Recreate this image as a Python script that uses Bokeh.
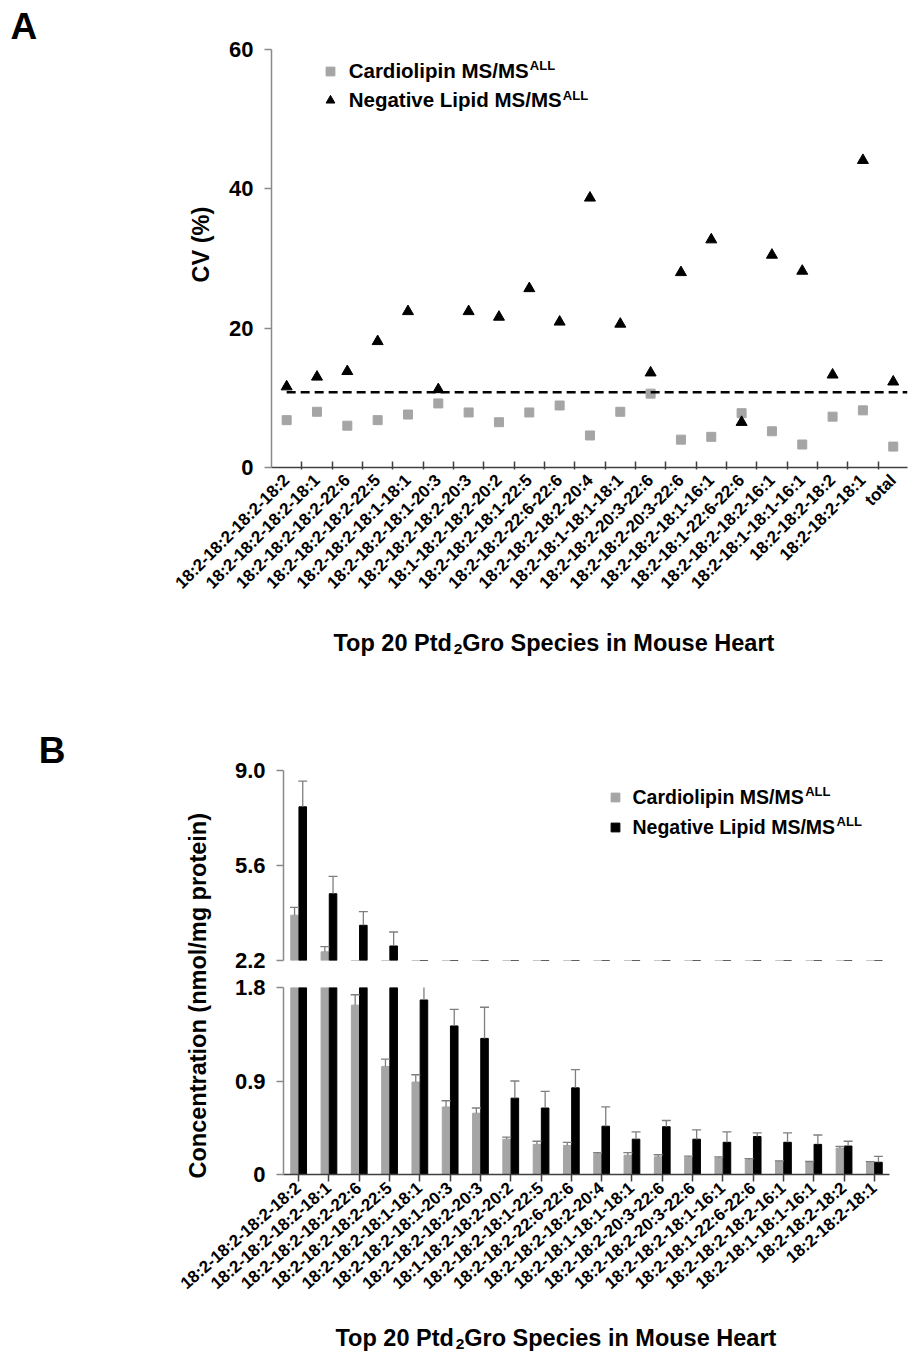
import math
from bokeh.plotting import figure
from bokeh.models import Range1d, FixedTicker, Label, Legend, LegendItem, ColumnDataSource, Title
from bokeh.layouts import column
from bokeh.transform import dodge
from bokeh.embed import file_html
from bokeh.resources import INLINE

FONT = "Liberation Sans"

# ---------------- data ----------------
species = [
    "18:2-18:2-18:2-18:2", "18:2-18:2-18:2-18:1", "18:2-18:2-18:2-22:6", "18:2-18:2-18:2-22:5",
    "18:2-18:2-18:1-18:1", "18:2-18:2-18:1-20:3", "18:2-18:2-18:2-20:3", "18:1-18:2-18:2-20:2",
    "18:2-18:2-18:1-22:5", "18:2-18:2-22:6-22:6", "18:2-18:2-18:2-20:4", "18:2-18:1-18:1-18:1",
    "18:2-18:2-20:3-22:6", "18:2-18:2-20:3-22:6", "18:2-18:2-18:1-16:1", "18:2-18:1-22:6-22:6",
    "18:2-18:2-18:2-16:1", "18:2-18:1-18:1-16:1", "18:2-18:2-18:2", "18:2-18:2-18:1",
]
categories_a = species + ["total"]

cv_cardiolipin = [6.8, 8.0, 6.0, 6.8, 7.6, 9.2, 7.9, 6.5, 7.9, 8.9, 4.6, 8.0, 10.6, 4.0, 4.4,
                  7.8, 5.2, 3.3, 7.3, 8.2, 3.0]
cv_negative = [11.6, 13.0, 13.8, 18.1, 22.4, 11.2, 22.4, 21.6, 25.7, 20.9, 38.7, 20.6, 13.6,
               28.0, 32.7, 6.5, 30.5, 28.2, 13.3, 44.1, 12.3]
cv_reference = 10.8

conc_cardiolipin = [3.82, 2.51, 1.63, 1.04, 0.89, 0.65, 0.59, 0.34, 0.29, 0.28, 0.20, 0.185,
                    0.17, 0.166, 0.16, 0.143, 0.127, 0.12, 0.255, 0.118]
err_cardiolipin = [0.28, 0.19, 0.10, 0.07, 0.07, 0.06, 0.05, 0.02, 0.03, 0.03, 0.01, 0.025,
                   0.02, 0.01, 0.01, 0.01, 0.005, 0.005, 0.015, 0.006]
conc_negative = [7.70, 4.59, 3.46, 2.72, 1.68, 1.43, 1.31, 0.735, 0.64, 0.834, 0.465, 0.34,
                 0.46, 0.34, 0.31, 0.366, 0.31, 0.29, 0.274, 0.118]
err_negative = [0.92, 0.62, 0.49, 0.50, 0.14, 0.16, 0.30, 0.165, 0.16, 0.176, 0.185, 0.07,
                0.06, 0.09, 0.10, 0.034, 0.09, 0.09, 0.046, 0.057]

yticks_a = [0, 20, 40, 60]
yticks_b_upper = [2.2, 5.6, 9.0]
yticks_b_lower = [0, 0.9, 1.8]

GRAY = "#a5a5a5"
AXIS_GRAY = "#8a8a8a"
DARK = "#404040"
ERR_GRAY = "#7f7f7f"
LEFT, RIGHT = 271, 1          # common frame borders (plots in a column share them)
B_SHIFT = 12                  # panel B sits 12 px further right
MID = 0.35                    # em fraction from baseline to text middle


def style_common(p):
    p.grid.visible = False
    p.outline_line_color = None
    p.border_fill_color = None
    p.background_fill_color = None


def style_yaxis(ax, ticks, overrides=None):
    ax.ticker = FixedTicker(ticks=ticks)
    ax.axis_line_color = AXIS_GRAY
    ax.axis_line_width = 1.5
    ax.major_tick_line_color = AXIS_GRAY
    ax.major_tick_line_width = 1.5
    ax.major_tick_in = 0
    ax.major_tick_out = 7
    ax.minor_tick_line_color = None
    ax.major_label_text_font = FONT
    ax.major_label_text_font_size = "22px"
    ax.major_label_text_font_style = "bold"
    ax.major_label_text_color = "black"
    ax.major_label_standoff = 11
    if overrides:
        ax.major_label_overrides = overrides


def text(p, s, sx, sy_baseline, size):
    """Label positioned by its baseline (screen px from the frame's bottom-left)."""
    p.add_layout(Label(x=sx, y=sy_baseline + MID * size, x_units="screen", y_units="screen",
                       text=s, text_font=FONT, text_font_style="bold",
                       text_font_size=f"{size}px", text_color="black",
                       text_align="left", text_baseline="middle"))


def side_title(p, s, place, size, offset, standoff):
    p.add_layout(Title(text=s, align="left", offset=offset, standoff=standoff,
                       vertical_align="bottom", text_font=FONT, text_font_style="bold",
                       text_font_size=f"{size}px", text_color="black"), place)


def band(height, sx, sy):
    """A text-only strip holding an x-axis title with a real subscript."""
    p = figure(width=908, height=height, x_range=Range1d(0, 1), y_range=Range1d(0, 1),
               x_axis_location=None, y_axis_location=None, output_backend="svg",
               toolbar_location=None, tools="", min_border_left=LEFT, min_border_right=RIGHT,
               min_border_top=0, min_border_bottom=0)
    style_common(p)
    size, sub = 23.5, 15.5
    w1 = 5.112 * size
    w2 = 0.556 * sub
    text(p, "Top 20 Ptd", sx, sy, size)
    text(p, "2", sx + w1, sy - 3, sub)
    text(p, "Gro Species in Mouse Heart", sx + w1 + w2, sy, size)
    return p


# ---------------- panel A ----------------
x_a = list(range(len(categories_a)))
src_a = ColumnDataSource(dict(x=x_a, cl=cv_cardiolipin, neg=cv_negative))

pA = figure(width=908, height=610, x_range=Range1d(-0.5, 20.47), y_range=Range1d(0, 60),
            output_backend="svg", toolbar_location=None, tools="",
            min_border_left=LEFT, min_border_right=RIGHT, min_border_top=49, min_border_bottom=143)
style_common(pA)

r_sq = pA.scatter("x", "cl", source=src_a, marker="square", size=9, color=GRAY)
r_tri = pA.scatter("x", "neg", source=src_a, marker="triangle", size=11, color="black")
pA.segment(x0=x_a[0], x1=pA.x_range.end, y0=cv_reference, y1=cv_reference,
           line_color="black", line_width=2.5, line_dash="9 5")

style_yaxis(pA.yaxis[0], yticks_a)
xa = pA.xaxis[0]
xa.ticker = FixedTicker(ticks=x_a, minor_ticks=[i + 0.5 for i in x_a[:-1]])
xa.major_label_overrides = {i: c for i, c in enumerate(categories_a)}
xa.major_label_orientation = math.pi / 4
xa.major_tick_line_color = None
xa.major_tick_in = 0
xa.major_tick_out = 0
xa.minor_tick_line_color = DARK
xa.minor_tick_line_width = 1.5
xa.minor_tick_in = 6
xa.minor_tick_out = 2
xa.axis_line_color = DARK
xa.axis_line_width = 1.5
xa.major_label_text_font = FONT
xa.major_label_text_font_size = "17px"
xa.major_label_text_font_style = "bold"
xa.major_label_text_color = "black"
xa.major_label_standoff = 8

leg_a = Legend(items=[LegendItem(label="Cardiolipin MS/MS", renderers=[r_sq]),
                      LegendItem(label="Negative Lipid MS/MS", renderers=[r_tri])],
               location=(47.7, 355), padding=0, margin=0, spacing=5,
               glyph_width=22, glyph_height=24, label_height=24, label_standoff=8,
               border_line_color=None, background_fill_alpha=0,
               label_text_font=FONT, label_text_font_style="bold",
               label_text_font_size="20.5px", label_text_color="black")
pA.add_layout(leg_a)
text(pA, "ALL", 258.3, 467 - 70, 13)
text(pA, "ALL", 291.3, 467 - 99.6, 13)
side_title(pA, "A", "above", 37, offset=10 - LEFT, standoff=5)
side_title(pA, "CV (%)", "left", 23.5, offset=185, standoff=25)

bandA = band(90, 333 - LEFT, 700 - 651)

# ---------------- panel B ----------------
x_b = list(range(len(species)))
src_b = ColumnDataSource(dict(
    x=x_b, cl=conc_cardiolipin, neg=conc_negative,
    cl_hi=[v + e for v, e in zip(conc_cardiolipin, err_cardiolipin)],
    neg_hi=[v + e for v, e in zip(conc_negative, err_negative)],
))
x_range_b = Range1d(-0.5, 19.5)
OFF, BW = 0.135, 0.25
WB = 908 - B_SHIFT - 18


def draw_bars(p):
    xg = dodge("x", -OFF)
    xk = dodge("x", OFF)
    p.vbar(x=xg, top="cl", bottom=0, width=BW, source=src_b, color=GRAY)
    p.vbar(x=xk, top="neg", bottom=0, width=BW, source=src_b, color="black")
    for xx, lo, hi in ((xg, "cl", "cl_hi"), (xk, "neg", "neg_hi")):
        p.segment(x0=xx, x1=xx, y0=lo, y1=hi, source=src_b, line_color=ERR_GRAY, line_width=1.3)
        p.scatter(x=xx, y=hi, source=src_b, marker="dash", size=9, line_color=ERR_GRAY,
                  line_width=1.3)


pB1 = figure(width=WB, height=274, x_range=x_range_b, y_range=Range1d(2.2, 9.0),
             x_axis_location=None, output_backend="svg", toolbar_location=None, tools="",
             min_border_left=LEFT, min_border_right=RIGHT, min_border_top=70, min_border_bottom=14)
pB1.margin = (0, 0, 0, B_SHIFT)
style_common(pB1)
draw_bars(pB1)
style_yaxis(pB1.yaxis[0], yticks_b_upper, {2.2: "2.2", 5.6: "5.6", 9.0: "9.0"})

# legend keys (square swatches) drawn from the same data, hidden in the plot area
key_g = pB1.scatter("x", "cl", source=src_b, marker="square", color=GRAY, visible=False)
key_k = pB1.scatter("x", "neg", source=src_b, marker="square", color="black", visible=False)
leg_b = Legend(items=[LegendItem(label="Cardiolipin MS/MS", renderers=[key_g]),
                      LegendItem(label="Negative Lipid MS/MS", renderers=[key_k])],
               location=(320.5, 121), padding=0, margin=0, spacing=6,
               glyph_width=22, glyph_height=24, label_height=24, label_standoff=7,
               border_line_color=None, background_fill_alpha=0, inactive_fill_alpha=0,
               label_text_font=FONT, label_text_font_style="bold",
               label_text_font_size="19.5px", label_text_color="black")
pB1.add_layout(leg_b)
text(pB1, "ALL", 521.7, 960 - 796, 13)
text(pB1, "ALL", 553.1, 960 - 825.8, 13)
side_title(pB1, "B", "above", 37, offset=38.3 - (LEFT + B_SHIFT), standoff=0)

pB2 = figure(width=WB, height=500, x_range=x_range_b, y_range=Range1d(0, 1.8),
             output_backend="svg", toolbar_location=None, tools="",
             min_border_left=LEFT, min_border_right=RIGHT, min_border_top=177,
             min_border_bottom=136)
pB2.margin = (-164, 0, 0, B_SHIFT)
style_common(pB2)
draw_bars(pB2)
style_yaxis(pB2.yaxis[0], yticks_b_lower, {0: "0", 0.9: "0.9", 1.8: "1.8"})
xb = pB2.xaxis[0]
xb.ticker = FixedTicker(ticks=x_b)
xb.major_label_overrides = {i: c for i, c in enumerate(species)}
xb.major_label_orientation = math.radians(41)
xb.major_tick_line_color = DARK
xb.major_tick_line_width = 1.5
xb.major_tick_in = 0
xb.major_tick_out = 7
xb.minor_tick_line_color = None
xb.axis_line_color = DARK
xb.axis_line_width = 1.5
xb.major_label_text_font = FONT
xb.major_label_text_font_size = "17px"
xb.major_label_text_font_style = "bold"
xb.major_label_text_color = "black"
xb.major_label_standoff = 4
side_title(pB2, "Concentration (nmol/mg protein)", "left", 23.5, offset=-4, standoff=41)

bandB = band(45, 335 - LEFT, 1355 - 1346)

layout = column(pA, bandA, pB1, pB2, bandB, spacing=0)
open("out.html", "w").write(file_html(layout, INLINE))
